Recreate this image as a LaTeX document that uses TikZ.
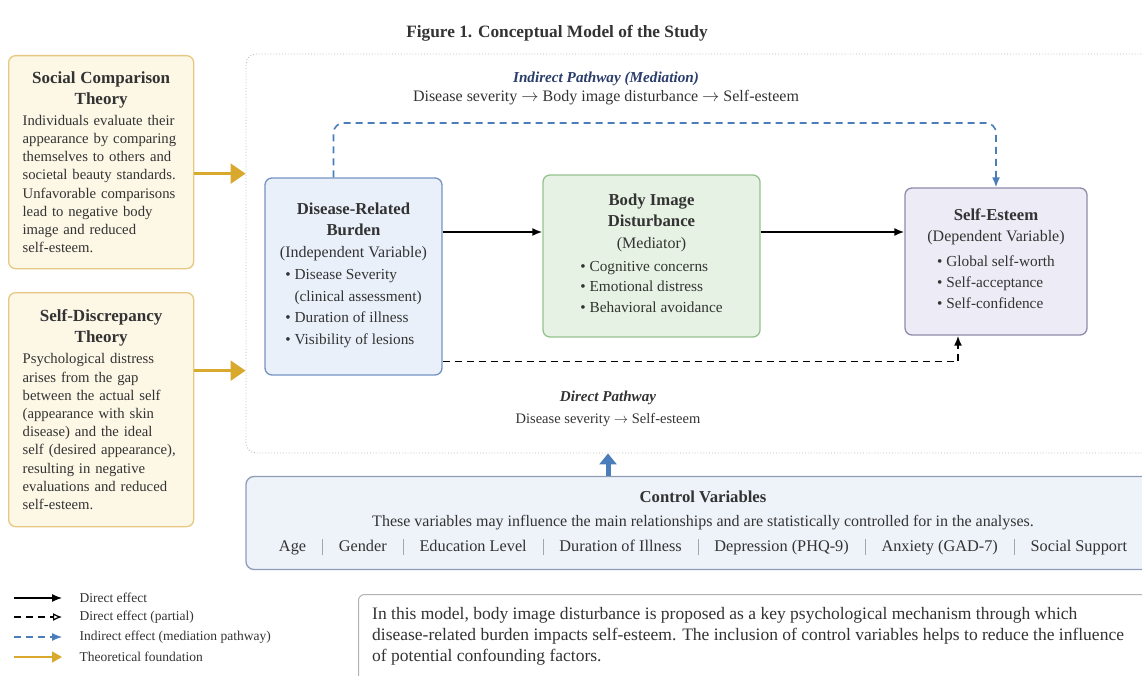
\documentclass[tikz,border=0pt]{standalone}
\usepackage{fontspec}
\setmainfont{Liberation Serif}
\usetikzlibrary{arrows.meta,positioning}

\definecolor{theoryfill}{HTML}{FDF7E6}
\definecolor{theorydraw}{HTML}{E6C883}
\definecolor{gold}{HTML}{D9A92E}
\definecolor{ivfill}{HTML}{E9F0FA}
\definecolor{ivdraw}{HTML}{7594C2}
\definecolor{medfill}{HTML}{E6F2E3}
\definecolor{meddraw}{HTML}{96C290}
\definecolor{dvfill}{HTML}{EDEBF5}
\definecolor{dvdraw}{HTML}{8F8BAA}
\definecolor{navy}{HTML}{2B3D6B}
\definecolor{pathblue}{HTML}{4A7DBA}
\definecolor{ctrlfill}{HTML}{EEF3FA}
\definecolor{ctrldraw}{HTML}{8E9DB6}
\definecolor{txt}{HTML}{333333}

\newcommand{\ctrlsep}{\hspace{16pt}{\color{gray!70}\rule[-3pt]{0.7pt}{16pt}}\hspace{16pt}}
\newcommand{\boxhead}{\bfseries\fontsize{16.7}{21.5}\selectfont}
\newcommand{\boxsub}{\fontsize{16}{22}\selectfont}

\tikzset{
    theorybox/.style={draw=theorydraw, fill=theoryfill, line width=1.3pt,
        rounded corners=7pt, anchor=north west, minimum width=185pt,
        text width=157pt, inner xsep=14pt, text=txt,
        font=\fontsize{14.7}{18.2}\selectfont},
    varbox/.style={line width=1.3pt, rounded corners=7pt, align=center,
        text=txt, font=\fontsize{15.3}{21.5}\selectfont},
    effect/.style={draw=black, line width=1.8pt, -{Latex[length=10pt,width=8pt]}},
    partial/.style={effect, dashed, dash pattern=on 7pt off 5pt},
    indirect/.style={draw=pathblue, line width=1.6pt, dash pattern=on 7pt off 5pt,
        -{Latex[length=10pt,width=8pt]}},
    theoryarrow/.style={draw=gold, line width=2.4pt, -{Triangle[length=15pt,width=20pt]}},
    pathlabel/.style={text=txt, font=\fontsize{14.5}{17}\selectfont},
    legendtxt/.style={anchor=west, text=txt, font=\fontsize{13.5}{15}\selectfont},
}

\begin{document}
\begin{tikzpicture}[x=1pt, y=-1pt]
    \useasboundingbox (0,0) rectangle (1142,676);

    \node[text=txt, font=\fontsize{17.3}{20}\selectfont\bfseries] (title) at (557,33)
        {Figure 1. Conceptual Model of the Study};

    % main frame
    \node[draw=gray!55, dotted, line width=0.9pt, rounded corners=10pt,
        minimum width=914pt, minimum height=399pt] (frame) at (703,253.5) {};

    % theories
    \node[theorybox, minimum height=213pt] (sct) at (8,55) {%
        \centering\bfseries\fontsize{17}{21}\selectfont Social Comparison\\ Theory\par
        \raggedright\mdseries\fontsize{14.7}{18.2}\selectfont\vspace{3pt}%
        Individuals evaluate their\\ appearance by comparing\\ themselves to others and\\
        societal beauty standards.\\ Unfavorable comparisons\\ lead to negative body\\
        image and reduced\\ self-esteem.};
    \node[theorybox, minimum height=234pt] (sdt) at (8,292) {%
        \centering\bfseries\fontsize{17}{21}\selectfont Self-Discrepancy\\ Theory\par
        \raggedright\mdseries\fontsize{14.7}{18.2}\selectfont\vspace{3pt}%
        Psychological distress\\ arises from the gap\\ between the actual self\\
        (appearance with skin\\ disease) and the ideal\\ self (desired appearance),\\
        resulting in negative\\ evaluations and reduced\\ self-esteem.};

    \draw[theoryarrow] ([yshift=-11.5pt]sct.east) -- ([yshift=-11.5pt]sct.east -| frame.west);
    \draw[theoryarrow] ([yshift=39pt]sdt.east) -- ([yshift=39pt]sdt.east -| frame.west);

    % variables
    \node[varbox, draw=ivdraw, fill=ivfill, minimum width=177pt, minimum height=197pt]
        (drb) at (353.5,276.5) {%
        \boxhead Disease-Related\\ \boxhead Burden\\
        \boxsub (Independent Variable)\\[3pt]
        \begin{tabular}{@{}l@{~}l@{}}
            \textbullet & Disease Severity\\
                        & (clinical assessment)\\
            \textbullet & Duration of illness\\
            \textbullet & Visibility of lesions
        \end{tabular}};
    \node[varbox, draw=meddraw, fill=medfill, minimum width=217pt, minimum height=162pt]
        (bid) at (651.5,256) {%
        \boxhead Body Image\\ \boxhead Disturbance\\
        \boxsub (Mediator)\\[4pt]
        \fontsize{15.3}{20.5}\selectfont
        \begin{tabular}{@{}l@{~}l@{}}
            \textbullet & Cognitive concerns\\
            \textbullet & Emotional distress\\
            \textbullet & Behavioral avoidance
        \end{tabular}};
    \node[varbox, draw=dvdraw, fill=dvfill, minimum width=182pt, minimum height=147pt]
        (se) at (996,261.5) {%
        \boxhead Self-Esteem\\
        \boxsub (Dependent Variable)\\[5pt]
        \fontsize{15.3}{21}\selectfont
        \begin{tabular}{@{}l@{~}l@{}}
            \textbullet & Global self-worth\\
            \textbullet & Self-acceptance\\
            \textbullet & Self-confidence
        \end{tabular}};

    % pathways
    \node[pathlabel, text=navy, font=\fontsize{15.2}{17}\selectfont\bfseries\itshape]
        (indlbl) at (606,79) {Indirect Pathway (Mediation)};
    \node[pathlabel, font=\fontsize{16}{18}\selectfont] (indsub) at (606,98)
        {Disease severity $\rightarrow$ Body image disturbance $\rightarrow$ Self-esteem};
    \node[pathlabel, font=\fontsize{15.1}{17}\selectfont\bfseries\itshape]
        (dirlbl) at (608,398) {Direct Pathway};
    \node[pathlabel] (dirsub) at (608,420) {Disease severity $\rightarrow$ Self-esteem};

    \draw[effect] ([yshift=44.5pt]drb.east) -- ([yshift=44.5pt]drb.east -| bid.west);
    \draw[effect] ([yshift=24pt]bid.east) -- ([yshift=24pt]bid.east -| se.west);
    \coordinate (indtop) at (0,123);
    \draw[indirect, rounded corners=10pt] ([xshift=-20pt]drb.north) |- (indtop -| se.north)
        -- (se.north);
    \draw[partial] ([yshift=-85pt]drb.east) -| ([xshift=-38pt]se.south);

    % controls
    \node[draw=ctrldraw, fill=ctrlfill, line width=1.3pt, rounded corners=8pt,
        minimum width=914pt, minimum height=93pt, align=center, text=txt,
        font=\fontsize{16}{23.5}\selectfont] (ctrl) at (703,523) {%
        {\bfseries\fontsize{16.7}{19}\selectfont Control Variables}\\
        These variables may influence the main relationships and are statistically controlled for in the analyses.\\[2pt]
        \fontsize{16.3}{19}\selectfont
        Age\ctrlsep Gender\ctrlsep Education Level\ctrlsep Duration of Illness\ctrlsep
        Depression (PHQ-9)\ctrlsep Anxiety (GAD-7)\ctrlsep Social Support};
    \draw[pathblue, line width=5pt, -{Triangle[length=11pt,width=17pt]}]
        (ctrl.north -| dirsub) -- (frame.south -| dirsub);

    % legend
    \node[legendtxt] (lgt1) at (76,598) {Direct effect};
    \node[legendtxt] (lgt2) at (76,617) {Direct effect (partial)};
    \node[legendtxt] (lgt3) at (76,637) {Indirect effect (mediation pathway)};
    \node[legendtxt] (lgt4) at (76,657) {Theoretical foundation};
    \draw[effect, line width=1.2pt] ([xshift=-62pt]lgt1.west) -- ([xshift=-14pt]lgt1.west);
    \draw[partial, line width=1.2pt, -{Latex[open,length=9pt,width=8pt]}]
        ([xshift=-62pt]lgt2.west) -- ([xshift=-14pt]lgt2.west);
    \draw[indirect, line width=1.2pt] ([xshift=-62pt]lgt3.west) -- ([xshift=-14pt]lgt3.west);
    \draw[theoryarrow, line width=1.8pt, -{Triangle[length=10pt,width=11pt]}]
        ([xshift=-62pt]lgt4.west) -- ([xshift=-14pt]lgt4.west);

    % note
    \node[draw=gray!60, fill=white, line width=1pt, rounded corners=6pt, anchor=north west,
        minimum width=820pt, minimum height=110pt] (note) at (358,594) {};
    \node[anchor=north west, inner sep=0pt, align=left, text=txt,
        font=\fontsize{17.5}{21}\selectfont] (notetxt) at ([xshift=14pt,yshift=-13pt]note.north west) {%
        In this model, body image disturbance is proposed as a key psychological mechanism through which\\
        disease-related burden impacts self-esteem. The inclusion of control variables helps to reduce the influence\\
        of potential confounding factors.};
\end{tikzpicture}
\end{document}
